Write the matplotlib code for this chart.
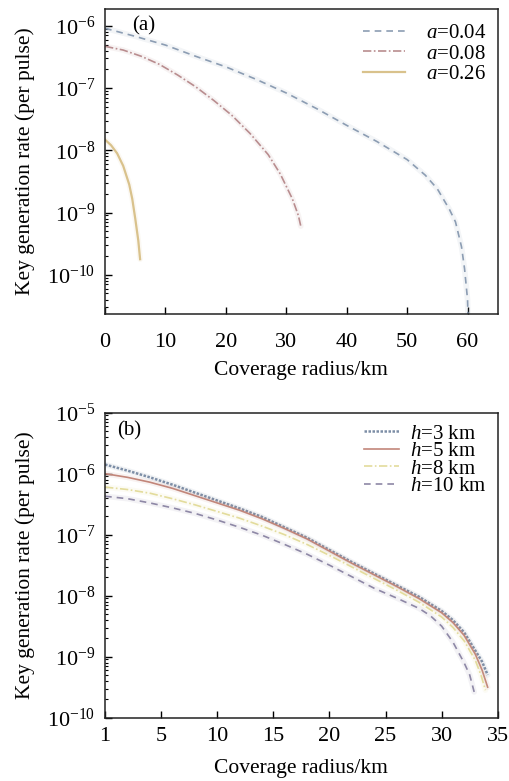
import numpy as np
import matplotlib
matplotlib.use("Agg")
import matplotlib.pyplot as plt
from matplotlib.ticker import LogLocator, NullFormatter

plt.rcParams["font.family"] = ["Liberation Serif", "DejaVu Serif"]
plt.rcParams["mathtext.fontset"] = "custom"
plt.rcParams["mathtext.rm"] = "Liberation Serif"
plt.rcParams["mathtext.it"] = "Liberation Serif:italic"
plt.rcParams["font.size"] = 15

# (a) key rate vs coverage radius for different attenuation a (log10 values)
a_labels = ["$a$=0.04", "$a$=0.08", "$a$=0.26"]
a004_x = [0, 5, 10, 15, 20, 25, 30, 35, 40, 45, 50, 53, 55, 57, 58, 59, 59.5, 60, 60.1]
a004_log = [-6.04, -6.17, -6.31, -6.49, -6.66, -6.86, -7.08, -7.33, -7.60, -7.86,
            -8.15, -8.40, -8.62, -8.95, -9.15, -9.55, -9.90, -10.40, -10.80]
a008_x = [0, 3, 6, 9, 12, 15, 18, 21, 24, 27, 29, 31, 32, 32.4]
a008_log = [-6.33, -6.39, -6.49, -6.62, -6.79, -6.98, -7.20, -7.44, -7.73, -8.07,
            -8.38, -8.78, -9.05, -9.22]
a026_x = [0, 1, 2, 3, 4, 4.5, 5, 5.5, 5.8]
a026_log = [-7.83, -7.92, -8.05, -8.25, -8.55, -8.78, -9.10, -9.45, -9.75]

# (b) key rate vs coverage radius for different heights h
h_labels = ["$h$=3 km", "$h$=5 km", "$h$=8 km", "$h$=10 km"]
hb_x_common = [0, 2, 4, 6, 8, 10, 12, 14, 16, 18, 20, 22, 24, 26, 28, 30, 31, 32, 33]
h3_x = hb_x_common + [33.6, 34.1]
h3_log = [-5.85, -5.95, -6.06, -6.18, -6.31, -6.44, -6.57, -6.71, -6.88, -7.05,
          -7.25, -7.45, -7.64, -7.83, -8.02, -8.25, -8.40, -8.60, -8.90, -9.08, -9.30]
h5_x = hb_x_common + [33.6, 34.1]
h5_log = [-6.00, -6.06, -6.14, -6.24, -6.36, -6.48, -6.60, -6.74, -6.90, -7.07,
          -7.27, -7.47, -7.66, -7.85, -8.05, -8.28, -8.44, -8.65, -8.96, -9.22, -9.50]
h8_x = hb_x_common + [33.5, 33.9]
h8_log = [-6.22, -6.26, -6.32, -6.41, -6.51, -6.62, -6.73, -6.86, -7.00, -7.16,
          -7.34, -7.53, -7.72, -7.91, -8.11, -8.35, -8.52, -8.74, -9.06, -9.30, -9.55]
h10_x = [0, 2, 4, 6, 8, 10, 12, 14, 16, 18, 20, 22, 24, 26, 28, 29, 30, 31, 32, 32.5, 32.9]
h10_log = [-6.37, -6.41, -6.48, -6.56, -6.65, -6.76, -6.88, -7.01, -7.16, -7.32,
           -7.50, -7.69, -7.88, -8.04, -8.21, -8.33, -8.50, -8.76, -9.10, -9.30, -9.58]

b_xticks = [0, 5, 10, 15, 20, 25, 30, 35]
b_xticklabels = ["1", "5", "10", "15", "20", "25", "30", "35"]


def draw(ax, x, logy, color, ls, label, lw=1.2):
    y = 10.0 ** np.array(logy)
    # soft halo like the scanned figure
    ax.plot(x, y, color=color, lw=4.0, alpha=0.10, solid_capstyle="round")
    ax.plot(x, y, color=color, ls=ls, lw=lw, label=label)


def style(ax, xpad, xlabelpad):
    ax.set_yscale("log")
    ax.tick_params(which="both", direction="in", top=False, right=False,
                   labelsize=16)
    ax.tick_params(axis="y", pad=7)
    ax.tick_params(axis="x", pad=xpad)
    ax.tick_params(which="major", length=5, width=1)
    ax.tick_params(which="minor", length=2.5, width=0.8)
    ax.yaxis.set_major_locator(LogLocator(base=10, numticks=20))
    ax.yaxis.set_minor_locator(LogLocator(base=10, subs=np.arange(2, 10), numticks=20))
    ax.yaxis.set_minor_formatter(NullFormatter())
    for s in ax.spines.values():
        s.set_linewidth(1.1)
        s.set_color("#222222")
    ax.set_xlabel("Coverage radius/km", fontsize=15.5, labelpad=xlabelpad)
    ax.set_ylabel("Key generation rate (per pulse)", fontsize=15.5, labelpad=9)


fig = plt.figure(figsize=(5.1, 7.81), dpi=100)

# panel (a)
ax1 = fig.add_axes([0.206, 0.598, 0.770, 0.3905])
draw(ax1, a004_x, a004_log, "#8c9db3", (0, (4, 3)), a_labels[0])
draw(ax1, a008_x, a008_log, "#b98d8f", (0, (5, 1.5, 1, 1.5)), a_labels[1])
draw(ax1, a026_x, a026_log, "#d9c28c", "-", a_labels[2], lw=1.6)
style(ax1, xpad=14, xlabelpad=6)
ax1.set_xlim(0, 65)
ax1.set_ylim(10 ** -10.63, 10 ** -5.73)
ax1.set_xticks([0, 10, 20, 30, 40, 50, 60])
ax1.text(0.07, 0.945, "(a)", transform=ax1.transAxes, fontsize=15, va="center")
ax1.legend(loc="upper right", frameon=False, fontsize=15, handlelength=2.0,
           labelspacing=0.05, handletextpad=1.0, borderaxespad=0.15,
           bbox_to_anchor=(1.0, 0.99))

# panel (b)
ax2 = fig.add_axes([0.206, 0.0811, 0.770, 0.3905])
draw(ax2, h3_x, h3_log, "#7d8ea6", (0, (1, 0.6)), h_labels[0], lw=1.8)
draw(ax2, h5_x, h5_log, "#c2867a", "-", h_labels[1])
draw(ax2, h8_x, h8_log, "#e3dc9c", (0, (5, 1.5, 1, 1.5)), h_labels[2])
draw(ax2, h10_x, h10_log, "#8e88a6", (0, (4, 3)), h_labels[3])
style(ax2, xpad=7, xlabelpad=9)
ax2.set_xlim(0, 35)
ax2.set_ylim(1e-10, 1e-5)
ax2.set_xticks(b_xticks)
ax2.set_xticklabels(b_xticklabels)
ax2.text(0.03, 0.94, "(b)", transform=ax2.transAxes, fontsize=15, va="center")
ax2.legend(loc="upper right", frameon=False, fontsize=15, handlelength=1.7,
           labelspacing=-0.1, handletextpad=0.5, borderaxespad=0.15,
           bbox_to_anchor=(1.0, 1.0))

fig.savefig("out.png", dpi=100)
